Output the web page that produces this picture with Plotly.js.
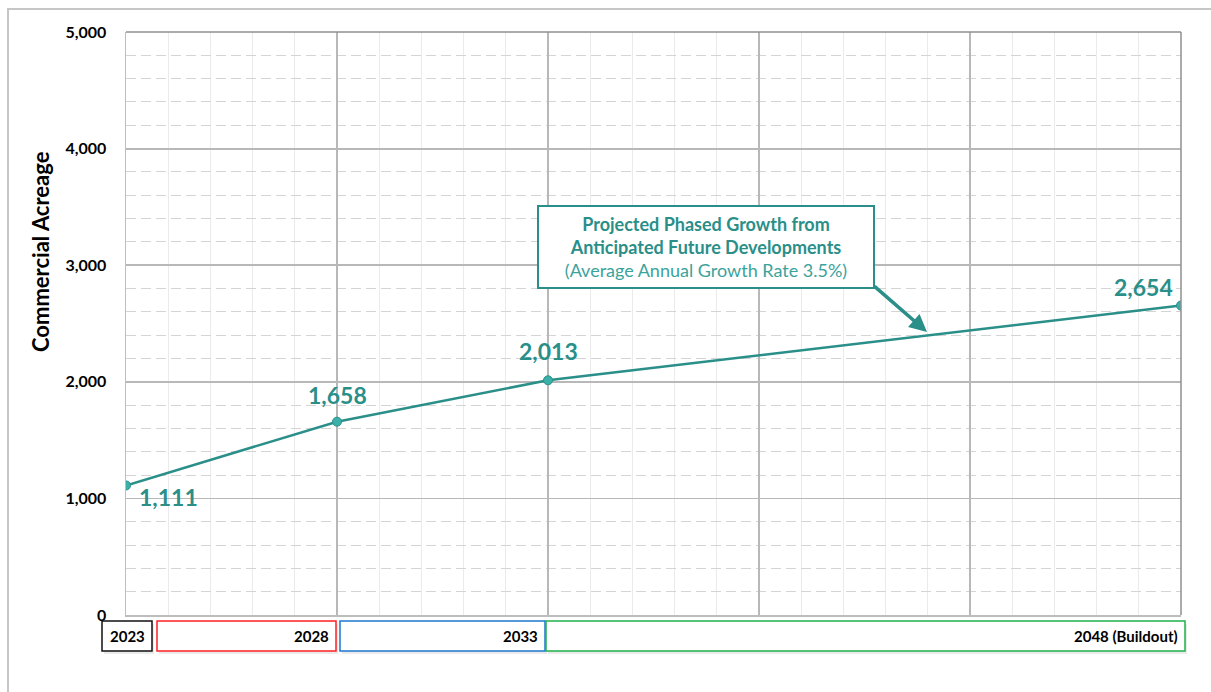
<!DOCTYPE html>
<html>
<head>
<meta charset="utf-8">
<script src="https://cdn.plot.ly/plotly-3.0.1.min.js"></script>
<style>html,body{margin:0;padding:0;background:#fff;}#chart{width:1211px;height:692px;}</style>
</head>
<body>
<div id="chart"></div>
<script>
const years = [2023, 2028, 2033, 2048];
const acreage = [1111, 1658, 2013, 2654];
const valueLabels = ["1,111", "1,658", "2,013", "2,654"];
const phaseLabels = ["2023", "2028", "2033", "2048 (Buildout)"];
const phaseColors = ["#111111", "#ff2020", "#1f78d0", "#1fb14a"];
const yTicks = [0, 1000, 2000, 3000, 4000, 5000];
const yTickText = ["0", "1,000", "2,000", "3,000", "4,000", "5,000"];
const calloutLines = ["Projected Phased Growth from", "Anticipated Future Developments", "(Average Annual Growth Rate 3.5%)"];

const TEAL = "#2a8f89";
const FONT = "Lato, 'Open Sans', sans-serif";

// pixel helpers (plot area: x 126..1181, y 32..615)
const L = 126, R = 1181, T = 32, B = 615;
const px = v => (v - L) / (R - L);
const py = v => (B - v) / (B - T);

const trace = {
  x: years, y: acreage, type: "scatter", mode: "lines+markers",
  line: {color: TEAL, width: 2.5},
  marker: {size: 9, color: "#3bb0a9", line: {color: TEAL, width: 1}},
  hoverinfo: "skip", showlegend: false
};

const shapes = [];
const annotations = [];

// outer frame
shapes.push({type: "rect", xref: "paper", yref: "paper", x0: px(8), x1: px(1216), y0: py(9), y1: py(720),
  line: {color: "#c6c6c6", width: 2}, fillcolor: "rgba(0,0,0,0)", layer: "below"});
// plot top/right border
shapes.push({type: "line", xref: "paper", yref: "paper", x0: 0, x1: 1, y0: 1, y1: 1, line: {color: "#8f8f8f", width: 1.5}});
shapes.push({type: "line", xref: "paper", yref: "paper", x0: 1, x1: 1, y0: 0, y1: 1, line: {color: "#8f8f8f", width: 1.5}});

// phase boxes below axis
const boxPx = [[102, 152], [157, 336], [340, 545], [546, 1185]];
const boxTop = 621, boxBot = 651;
boxPx.forEach((b, i) => {
  shapes.push({type: "rect", xref: "paper", yref: "paper", x0: px(b[0] + 2), x1: px(b[1] + 2), y0: py(boxTop + 3), y1: py(boxBot + 3),
    line: {width: 0}, fillcolor: "rgba(0,0,0,0.08)"});
  shapes.push({type: "rect", xref: "paper", yref: "paper", x0: px(b[0]), x1: px(b[1]), y0: py(boxTop), y1: py(boxBot),
    line: {color: phaseColors[i], width: 1.5}, fillcolor: "#ffffff"});
  annotations.push({xref: "paper", yref: "paper", x: px(b[1] - 5), y: py((boxTop + boxBot) / 2), xanchor: "right", yanchor: "middle",
    text: "<b>" + phaseLabels[i] + "</b>", showarrow: false, font: {family: FONT, size: 15, color: "#000"}});
});

// value labels
const shifts = [[42, -12], [0, 27], [0, 29], [-38, 19]];
years.forEach((yr, i) => {
  annotations.push({x: yr, y: acreage[i], xref: "x", yref: "y", text: "<b>" + valueLabels[i] + "</b>", showarrow: false,
    xshift: shifts[i][0], yshift: shifts[i][1], font: {family: FONT, size: 23, color: TEAL}});
});

// callout box
annotations.push({xref: "paper", yref: "paper", x: px(706), y: py(246.5), xanchor: "center", yanchor: "middle",
  text: "<b>" + calloutLines[0] + "</b><br><b>" + calloutLines[1] + "</b><br><span style='color:#3aa39c'>" + calloutLines[2] + "</span>",
  showarrow: false, align: "center", font: {family: FONT, size: 18, color: TEAL},
  bordercolor: TEAL, borderwidth: 2, bgcolor: "#ffffff", width: 334, height: 80, borderpad: 0});
// arrow
annotations.push({xref: "paper", yref: "paper", x: px(927), y: py(332), ax: 873 - 927, ay: 285 - 332,
  axref: "pixel", ayref: "pixel", text: "", showarrow: true, arrowhead: 2, arrowsize: 1, arrowwidth: 3.5, arrowcolor: TEAL});

// y title
annotations.push({xref: "paper", yref: "paper", x: px(40), y: py(252), xanchor: "center", yanchor: "middle", textangle: -90,
  text: "<b>Commercial Acreage</b>", showarrow: false, font: {family: FONT, size: 22, color: "#000"}});

const layout = {
  width: 1211, height: 692,
  margin: {l: L, r: 1211 - R, t: T, b: 692 - B},
  paper_bgcolor: "#ffffff", plot_bgcolor: "#ffffff",
  font: {family: FONT},
  xaxis: {
    range: [2023, 2048], dtick: 5, tick0: 2023, showticklabels: false, ticks: "",
    showgrid: true, gridcolor: "#b8b8b8", gridwidth: 1.8, zeroline: false,
    showline: true, linecolor: "#bdbdbd", linewidth: 1.5,
    minor: {dtick: 1, tick0: 2023, showgrid: true, gridcolor: "#ebebeb", gridwidth: 1, ticks: ""},
    fixedrange: true
  },
  yaxis: {
    range: [0, 5000], tickvals: yTicks, ticktext: yTickText, ticks: "",
    tickfont: {family: FONT, size: 16, color: "#000", weight: "bold"},
    ticklabelstandoff: 15,
    showgrid: true, gridcolor: "#b8b8b8", gridwidth: 1.8, zeroline: false,
    showline: true, linecolor: "#bdbdbd", linewidth: 1.5,
    minor: {dtick: 200, tick0: 0, showgrid: true, gridcolor: "#d4d4d4", gridwidth: 1, griddash: "10px,5px", ticks: ""},
    fixedrange: true
  },
  shapes: shapes,
  annotations: annotations,
  showlegend: false
};

Plotly.newPlot("chart", [trace], layout, {displayModeBar: false, staticPlot: true});
</script>
</body>
</html>
